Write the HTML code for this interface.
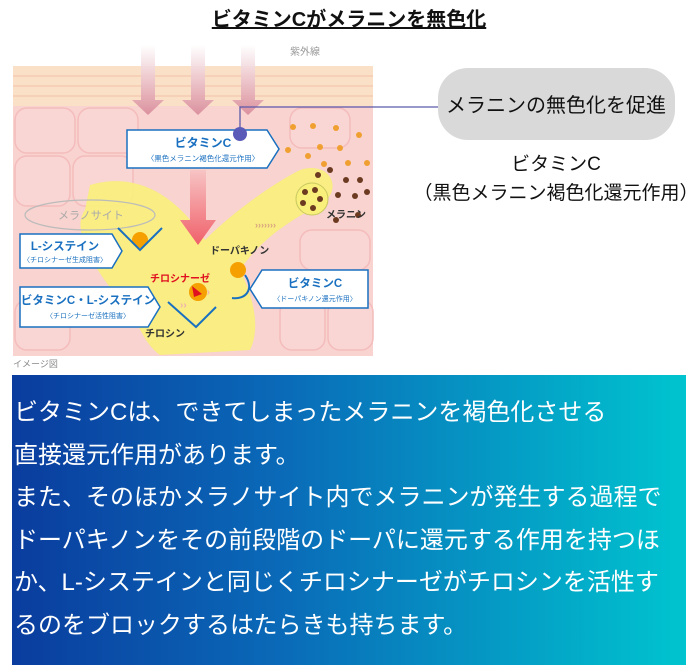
<!DOCTYPE html>
<html><head><meta charset="utf-8"><style>
body{margin:0;width:698px;height:667px;background:#fff;position:relative;overflow:hidden;font-family:"Liberation Sans","Noto Sans CJK JP",sans-serif}
.t{position:absolute;white-space:nowrap}
</style></head><body>
<div class="t" style="left:0;width:698px;top:3px;text-align:center;font-size:20px;font-weight:bold;text-decoration:underline;color:#111">ビタミンCがメラニンを無色化</div>
<svg style="position:absolute;left:0;top:0" width="698" height="375" font-family="Liberation Sans, Noto Sans CJK JP, sans-serif">
<defs>
<linearGradient id="ar" x1="0" y1="0" x2="0" y2="1"><stop offset="0" stop-color="#fff"/><stop offset="1" stop-color="#d98a9a"/></linearGradient>
<linearGradient id="ar2" x1="0" y1="0" x2="0" y2="1"><stop offset="0" stop-color="#f7c4c4"/><stop offset="1" stop-color="#f0606a"/></linearGradient>
</defs>
<rect x="13" y="66" width="360" height="290" fill="#f8d3cf"/>
<rect x="13" y="66" width="360" height="40" fill="#fbe0c8"/>
<g stroke="#f2c2a8" stroke-width="1" fill="none">
<line x1="13" y1="76" x2="373" y2="76"/><line x1="13" y1="86" x2="373" y2="86"/><line x1="13" y1="96" x2="373" y2="96"/>
</g>
<g stroke="#f4bcbc" stroke-width="1.5" fill="#f9d6d3">
<rect x="15" y="108" width="60" height="45" rx="12"/><rect x="78" y="108" width="60" height="45" rx="12"/>
<rect x="15" y="156" width="55" height="50" rx="12"/><rect x="73" y="156" width="60" height="50" rx="12"/>
<rect x="290" y="108" width="60" height="40" rx="12"/>
<rect x="15" y="300" width="55" height="50" rx="12"/><rect x="280" y="300" width="45" height="50" rx="12"/><rect x="328" y="300" width="45" height="50" rx="12"/>
<rect x="300" y="230" width="70" height="40" rx="12"/>
</g>
<path d="M90 185 C140 170 180 200 205 240 C230 215 270 185 300 170 C330 160 345 190 320 205 C290 220 260 240 240 270 C255 300 260 330 250 350 L160 355 C140 340 140 320 120 300 C95 270 70 230 85 210Z" fill="#f8f07a" opacity="0.9"/>
<g fill="url(#ar)" opacity="0.9">
<path d="M141 45h14v55h9l-16 15-16-15h9z"/><path d="M191 45h14v55h9l-16 15-16-15h9z"/><path d="M241 45h14v55h9l-16 15-16-15h9z"/>
</g>
<path d="M190 170h16v50h10l-18 25-18-25h10z" fill="url(#ar2)"/>
<text x="290" y="55" font-size="10" fill="#999">紫外線</text>
<ellipse cx="90" cy="215" rx="65" ry="15" fill="none" stroke="#bbb" stroke-width="1.2"/>
<text x="58" y="219" font-size="11" fill="#aaa">メラノサイト</text>
<g fill="#f0a030"><circle cx="293" cy="127" r="3"/><circle cx="313" cy="126" r="3"/><circle cx="336" cy="128" r="3"/><circle cx="359" cy="135" r="3"/><circle cx="320" cy="147" r="3"/><circle cx="340" cy="148" r="3"/><circle cx="288" cy="150" r="3"/><circle cx="308" cy="156" r="3"/><circle cx="348" cy="163" r="3"/><circle cx="367" cy="163" r="3"/><circle cx="324" cy="164" r="3"/></g>
<g fill="#6b3a20"><circle cx="330" cy="170" r="3"/><circle cx="346" cy="180" r="3"/><circle cx="318" cy="175" r="3"/><circle cx="360" cy="180" r="3"/><circle cx="338" cy="195" r="3"/><circle cx="355" cy="196" r="3"/><circle cx="367" cy="192" r="3"/><circle cx="336" cy="220" r="3"/><circle cx="358" cy="215" r="3"/></g>
<circle cx="312" cy="199" r="16" fill="#f8f07a" stroke="#c8c860"/>
<g fill="#6b3a20"><circle cx="305" cy="192" r="3"/><circle cx="315" cy="190" r="3"/><circle cx="320" cy="199" r="3"/><circle cx="303" cy="203" r="3"/><circle cx="313" cy="208" r="3"/></g>
<text x="326" y="218" font-size="10" fill="#333" font-weight="bold">メラニン</text>
<g fill="#d8a080" font-size="9" font-weight="bold"><text x="255" y="228">›››››››</text></g>
<g fill="#f0b0b0" font-size="10" font-weight="bold"><text x="200" y="295">›››</text><text x="180" y="308">››</text></g>
<text x="210" y="254" font-size="10" fill="#333" font-weight="bold">ドーパキノン</text>
<text x="150" y="282" font-size="10" fill="#e01020" font-weight="bold">チロシナーゼ</text>
<text x="145" y="337" font-size="10" fill="#333" font-weight="bold">チロシン</text>
<circle cx="140" cy="240" r="8" fill="#f5a000"/><circle cx="238" cy="270" r="8" fill="#f5a000"/><circle cx="198" cy="292" r="9" fill="#f5a000"/>
<path d="M192 286l10 8-8 3z" fill="#e01020"/>
<path d="M245 275 C255 290 245 300 232 298" fill="none" stroke="#1a70c0" stroke-width="2"/>
<g fill="none" stroke="#1a70c0" stroke-width="2"><path d="M118 228l22 22 22-22"/><path d="M168 302l28 25 20-20"/></g>
<g fill="#fff" stroke="#1a70c0" stroke-width="1.5">
<path d="M127 130h140l12 19-12 19h-140z"/>
<path d="M20 234h92l10 17-10 17h-92z"/>
<path d="M20 287h128l12 20-12 20h-128z"/>
<path d="M262 270h106v38h-106l-12-19z"/>
</g>
<text x="203" y="147" font-size="12" fill="#1a70c0" font-weight="bold" text-anchor="middle">ビタミンC</text>
<text x="203" y="161" font-size="7.5" fill="#1a70c0" text-anchor="middle">〈黒色メラニン褐色化還元作用〉</text>
<text x="65" y="250" font-size="11.5" fill="#1a70c0" font-weight="bold" text-anchor="middle">L-システイン</text>
<text x="65" y="262" font-size="7" fill="#1a70c0" text-anchor="middle">〈チロシナーゼ生成阻害〉</text>
<text x="88" y="304" font-size="11.5" fill="#1a70c0" font-weight="bold" text-anchor="middle">ビタミンC・L-システイン</text>
<text x="88" y="318" font-size="7" fill="#1a70c0" text-anchor="middle">〈チロシナーゼ活性阻害〉</text>
<text x="315" y="287" font-size="11.5" fill="#1a70c0" font-weight="bold" text-anchor="middle">ビタミンC</text>
<text x="315" y="301" font-size="7" fill="#1a70c0" text-anchor="middle">〈ドーパキノン還元作用〉</text>
<path d="M240 134V107H440" fill="none" stroke="#5a5aaa" stroke-width="1.3"/>
<circle cx="240" cy="134" r="7" fill="#5a5ab8"/>
<text x="13" y="367" font-size="9" fill="#888">イメージ図</text>
<rect x="438" y="68" width="237" height="72" rx="30" fill="#d9d9d9"/>
<text x="556" y="112" font-size="20" fill="#111" text-anchor="middle">メラニンの無色化を促進</text>
<text x="556" y="170" font-size="19" fill="#111" text-anchor="middle">ビタミンC</text>
<text x="556" y="199" font-size="19" fill="#111" text-anchor="middle">（黒色メラニン褐色化還元作用）</text>
</svg>
<div style="position:absolute;left:12px;top:375px;width:674px;height:290px;background:linear-gradient(90deg,#0a3c9e,#0a6ab8 40%,#00c4cf);color:#fff;font-size:24px;line-height:42.5px;padding:17px 0 0 2px;box-sizing:border-box;white-space:nowrap">
ビタミンCは、できてしまったメラニンを褐色化させる<br>直接還元作用があります。<br>また、そのほかメラノサイト内でメラニンが発生する過程で<br>ドーパキノンをその前段階のドーパに還元する作用を持つほ<br>か、L-システインと同じくチロシナーゼがチロシンを活性す<br>るのをブロックするはたらきも持ちます。
</div>
</body></html>
